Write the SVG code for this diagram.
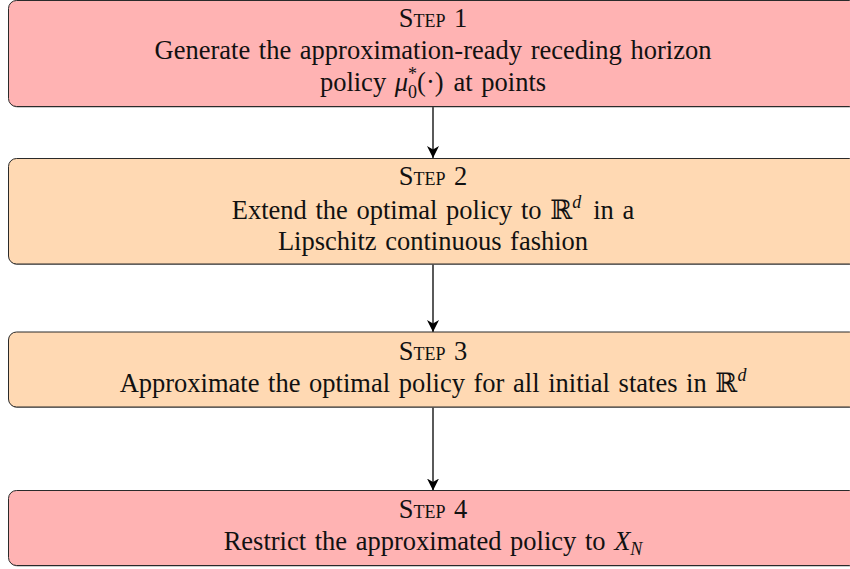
<svg xmlns="http://www.w3.org/2000/svg" width="850" height="569" viewBox="0 0 850 569">
  <defs>
    <marker id="arrow" markerWidth="12" markerHeight="12" refX="10" refY="5" orient="auto" markerUnits="userSpaceOnUse" viewBox="0 0 10 10">
      <path d="M0,0 L10,5 L0,10 L3,5 Z" fill="#000"/>
    </marker>
  </defs>
  <style>
    .box { stroke: #2a2a2a; stroke-width: 1; }
    .shadow { fill: #555; opacity: 0.6; }
    .red { fill: #FFB3B3; }
    .orange { fill: #FFD9B3; }
    text { font-family: "Liberation Serif", "DejaVu Serif", serif; font-size: 26.5px; word-spacing: 2px; fill: #111; text-anchor: middle; }
    .sc { font-size: 18px; }
    .it { font-style: italic; }
    .small { font-size: 18px; }
    .conn { stroke: #000; stroke-width: 1.3; fill: none; }
  </style>

  <g id="connectors">
    <line class="conn" x1="433" y1="107" x2="433" y2="158" marker-end="url(#arrow)"/>
    <line class="conn" x1="433" y1="264.5" x2="433" y2="332" marker-end="url(#arrow)"/>
    <line class="conn" x1="433" y1="407.5" x2="433" y2="490.5" marker-end="url(#arrow)"/>
  </g>

  <g id="step1">
    <rect class="shadow" x="9.5" y="1.5" width="849" height="106" rx="8"/>
    <rect class="box red" x="8.5" y="0.5" width="849" height="106" rx="8"/>
    <text x="433" y="27">S<tspan class="sc">TEP</tspan> 1</text>
    <text x="433" y="59">Generate the approximation-ready receding horizon</text>
    <text x="433" y="91">policy <tspan class="it">μ</tspan><tspan class="small" dy="-11">*</tspan><tspan class="small" dx="-9" dy="18">0</tspan><tspan dy="-7">(·)</tspan><tspan dx="10">at points</tspan></text>
  </g>

  <g id="step2">
    <rect class="shadow" x="9.5" y="159.5" width="849" height="105.5" rx="8"/>
    <rect class="box orange" x="8.5" y="158.5" width="849" height="105.5" rx="8"/>
    <text x="433" y="185">S<tspan class="sc">TEP</tspan> 2</text>
    <text x="433" y="219">Extend the optimal policy to ℝ<tspan class="small it" dy="-11">d</tspan><tspan dx="12" dy="11">in a</tspan></text>
    <text x="433" y="250">Lipschitz continuous fashion</text>
  </g>

  <g id="step3">
    <rect class="shadow" x="9.5" y="333" width="849" height="75" rx="8"/>
    <rect class="box orange" x="8.5" y="332" width="849" height="75" rx="8"/>
    <text x="433" y="360">S<tspan class="sc">TEP</tspan> 3</text>
    <text x="433" y="392">Approximate the optimal policy for all initial states in ℝ<tspan class="small it" dy="-11">d</tspan></text>
  </g>

  <g id="step4">
    <rect class="shadow" x="9.5" y="491.5" width="849" height="75" rx="8"/>
    <rect class="box red" x="8.5" y="490.5" width="849" height="75" rx="8"/>
    <text x="433" y="518">S<tspan class="sc">TEP</tspan> 4</text>
    <text x="433" y="550">Restrict the approximated policy to <tspan class="it">X</tspan><tspan class="small it" dy="5">N</tspan></text>
  </g>
</svg>
